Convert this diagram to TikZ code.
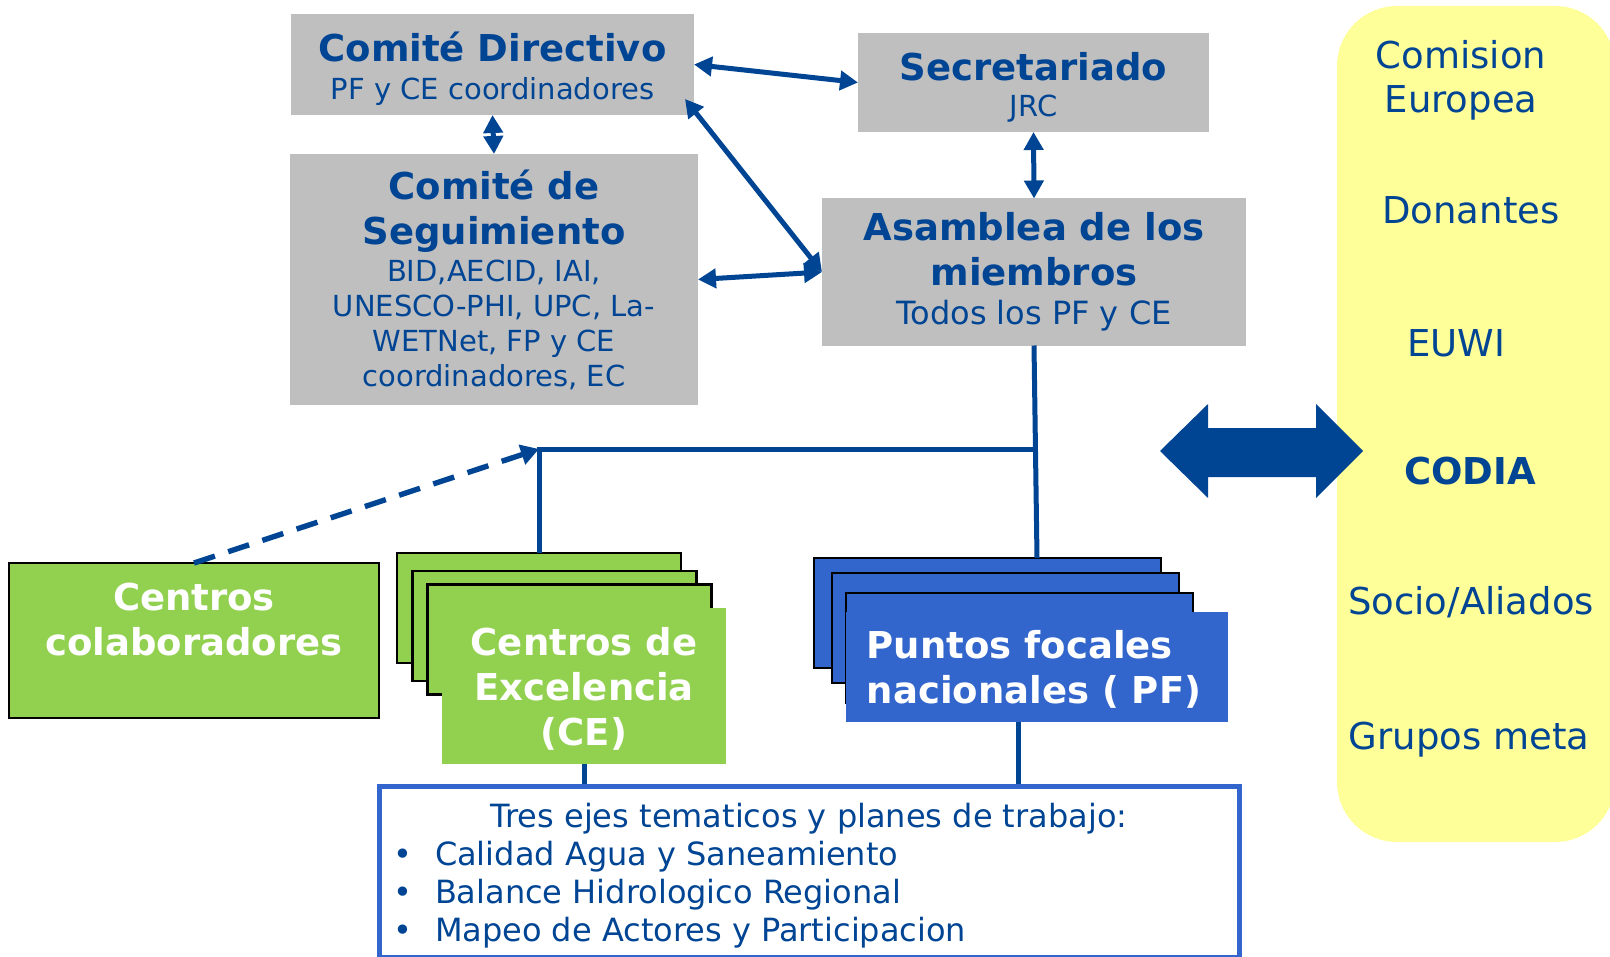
\documentclass[tikz,border=0pt]{standalone}
\usepackage{fontspec}
\setmainfont{DejaVu Sans}
\usetikzlibrary{arrows.meta}

\definecolor{navy}{RGB}{0,68,148}
\definecolor{greybox}{RGB}{191,191,191}
\definecolor{leaf}{RGB}{146,208,80}
\definecolor{royal}{RGB}{51,102,204}
\definecolor{cream}{RGB}{255,255,153}

\newcommand\bigbold{\fontsize{18.5}{22.5}\selectfont\bfseries\lineskiplimit=-40pt\relax}
\newcommand\plainsize{\fontsize{14.5}{17.5}\selectfont\lineskiplimit=-40pt\relax}
\newcommand\midsize{\fontsize{16}{17.5}\selectfont\lineskiplimit=-40pt\relax}
\newcommand\sidesize{\fontsize{18.5}{22}\selectfont\lineskiplimit=-40pt\relax}

\begin{document}
\begin{tikzpicture}[x=0.5pt, y=-0.5pt,
  every node/.style = {inner sep=0pt, outer sep=0pt, align=center,
    text=navy, font=\plainsize},
  grey/.style = {fill=greybox},
  sheet/.style = {draw=black, line width=1.2pt},
  link/.style = {draw=navy, line width=2.5pt,
    {Triangle[length=9pt,width=9.5pt]}-{Triangle[length=9pt,width=9.5pt]}},
  wire/.style = {draw=navy, line width=2.5pt},
  side/.style = {font=\sidesize}]
  \useasboundingbox (0,0) rectangle (1610,957);
  \clip (0,0) rectangle (1610,957);

  % committees
  \node[grey, minimum width=201.5pt, minimum height=50.5pt] (cd) at (492.5,64.5) {};
  \node (cdtxt) at (492.5,68.5) {{\bigbold Comité Directivo}\\[1.5pt] PF y CE coordinadores};
  \node[grey, minimum width=175.5pt, minimum height=49.5pt] (sec) at (1033.5,82.5) {};
  \node (sectxt) at (1033.5,87) {{\bigbold Secretariado}\\[0.5pt] JRC};
  \node[grey, minimum width=204pt, minimum height=125.5pt] (cs) at (494,279.5)
    {{\bigbold Comité de}\\[5pt] {\bigbold Seguimiento}\\[1pt] BID,AECID, IAI,\\
     UNESCO-PHI, UPC, La-\\ WETNet, FP y CE\\ coordinadores, EC};
  \node[grey, minimum width=212pt, minimum height=73.5pt, font=\midsize] (asm) at (1034,272)
    {{\bigbold Asamblea de los}\\[5pt] {\bigbold miembros}\\[2pt] Todos los PF y CE};

  \draw[link] (cd.east) -- (sec.west);
  \draw[link] (cd.south) -- (cs.north);
  \draw[link] ([xshift=-4.5pt, yshift=8pt]cd.south east) -- (asm.west);
  \draw[link] (cs.east) -- (asm.west);
  \draw[link] (sec.south) -- (asm.north);

  % partners
  \node[fill=cream, rounded corners=30pt, minimum width=139pt, minimum height=418pt] (panel) at (1476,424) {};
  \node[side] (ec) at (1461,80) {Comision\\Europea};
  \node[side] (donors) at (1471,210) {Donantes};
  \node[side] (euwi) at (1456,343) {EUWI};
  \node[side, font=\sidesize\bfseries] (codia) at (1470,471) {CODIA};
  \node[side] (allies) at (1471,602) {Socio/Aliados};
  \node[side] (target) at (1469,740) {Grupos meta};
  \fill[navy] (1160,451) -- (1208,404) -- (1208,428) -- (1316,428) -- (1316,404)
    -- (1363,451) -- (1316,498) -- (1316,477) -- (1208,477) -- (1208,498) -- cycle;

  % centres and focal points
  \node[sheet, fill=leaf, minimum width=185pt, minimum height=77.5pt] (colab) at (194,640.5) {};
  \node[text=white, font=\bigbold] (colabtxt) at (194,619.5) {Centros\\colaboradores};
  \foreach \n/\cx/\cy in {1/539/608, 2/554.5/626, 3/569.5/639.5}
    \node[sheet, fill=leaf, minimum width=142pt, minimum height=55pt] (ce\n) at (\cx,\cy) {};
  \node[fill=leaf, text=white, font=\bigbold, minimum width=142pt, minimum height=78pt] (ce) at (584,686) {};
  \node[text=white, font=\bigbold] (cetxt) at (584,689) {Centros de\\Excelencia\\(CE)};
  \foreach \n/\cx/\cy in {1/987.5/613, 2/1005.5/628, 3/1019.5/648}
    \node[sheet, fill=royal, minimum width=173.5pt, minimum height=55pt] (pf\n) at (\cx,\cy) {};
  \node[fill=royal, minimum width=191pt, minimum height=55pt] (pf) at (1037,667) {};
  \node[text=white, font=\bigbold, align=left] (pftxt) at (1034,669) {Puntos focales\\nacionales ( PF)};

  \coordinate (junc) at (539,449);
  \draw[wire] (asm.south) -- ([xshift=1.5pt]asm.south |- pf1.north);
  \draw[wire] (asm.south |- junc) -- (junc) -- (ce1.north);
  \draw[draw=navy, line width=2.7pt, dash pattern=on 11pt off 7pt,
    -{Triangle[length=9pt,width=10pt]}] (colab.north) -- (junc);

  % work plans
  \draw[wire] (ce.south) -- (ce.south |- 0,786);
  \draw[wire] ([xshift=-9.5pt]pf.south) -- ([xshift=-9.5pt]pf.south |- 0,786);
  \node[draw=royal, line width=2.5pt, minimum width=430pt, minimum height=85.5pt] (ejes) at (809,871.5) {};
  \node[anchor=base, font=\midsize] (ejeshead) at (809,827) {Tres ejes tematicos y planes de trabajo:};
  \foreach \t [count=\i] in {Calidad Agua y Saneamiento, Balance Hidrologico Regional,
      Mapeo de Actores y Participacion} {
    \node[anchor=base, font=\midsize] (dot\i) at (403,{827+38*\i}) {\textbullet};
    \node[anchor=base west, font=\midsize] (eje\i) at (435,{827+38*\i}) {\t};
  }
\end{tikzpicture}
\end{document}
